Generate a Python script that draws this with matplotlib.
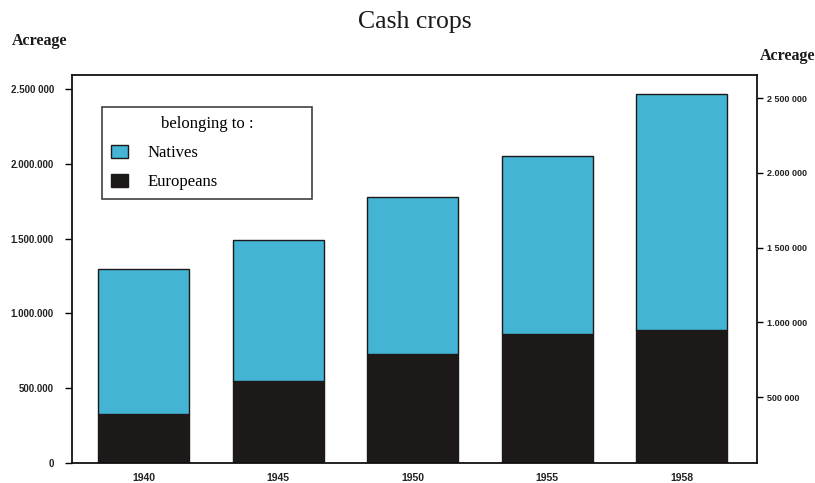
import matplotlib
matplotlib.use("Agg")
import matplotlib.pyplot as plt
from matplotlib.patches import Patch
import numpy as np

years = ["1940", "1945", "1950", "1955", "1958"]
europeans = [330000, 550000, 730000, 860000, 890000]
totals = [1300000, 1490000, 1780000, 2050000, 2470000]
natives = [t - e for t, e in zip(totals, europeans)]

left_ticks = [0, 500000, 1000000, 1500000, 2000000, 2500000]
left_labels = ["0", "500.000", "1.000.000", "1.500.000", "2.000.000", "2.500 000"]
right_ticks = [500000, 1000000, 1500000, 2000000, 2500000]
right_labels = ["500 000", "1.000 000", "1 500 000", "2.000 000", "2 500 000"]

blue = "#43b4d4"
dark = "#1e1919"
serif = ["Liberation Serif", "DejaVu Serif"]
narrow = ["Liberation Sans Narrow", "Liberation Sans", "DejaVu Sans"]

fig = plt.figure(figsize=(8.15, 4.83), dpi=100)
ax = fig.add_axes([72/815, (483-463)/483, (757-72)/815, (463-75)/483])

x = np.arange(len(years))
w = 0.676
ax.bar(x, europeans, w, color=dark, edgecolor=dark, linewidth=1, zorder=2)
ax.bar(x, natives, w, bottom=europeans, color=blue, edgecolor=dark, linewidth=1, zorder=2)

ax.set_xlim(-0.531, 4.558)
ymax = 2594000
ax.set_ylim(0, ymax)

ax.set_yticks(left_ticks)
ax.set_yticklabels(left_labels, fontsize=7, fontweight="bold", family=narrow, color="#222222")
ax.set_xticks(x)
ax.set_xticklabels(years, fontsize=7.5, fontweight="bold", family=narrow, color="#222222")
ax.tick_params(axis="y", direction="out", length=5, width=1, pad=8)
ax.tick_params(axis="x", length=0, pad=7)
for s in ax.spines.values():
    s.set_linewidth(1.3)
    s.set_color("#111111")

ax2 = ax.twinx()
off = 60000
ax2.set_ylim(off, ymax + off)
ax2.set_yticks(right_ticks)
ax2.set_yticklabels(right_labels, fontsize=6.5, fontweight="bold", family=narrow, color="#222222")
ax2.tick_params(axis="y", direction="out", length=4, width=1, pad=3)
for s in ax2.spines.values():
    s.set_visible(False)

handles = [Patch(facecolor=blue, edgecolor=dark, linewidth=1, label="Natives"),
           Patch(facecolor=dark, edgecolor=dark, linewidth=1, label="Europeans")]
leg = ax.legend(handles=handles, title="belonging to :", loc="upper left",
                bbox_to_anchor=((102-72)/685, (463-107)/388, 210/685, 0.0),
                mode="expand", frameon=True, fancybox=False,
                prop={"family": serif, "size": 12}, handlelength=1.0, handleheight=0.85,
                borderpad=0.55, labelspacing=0.75, handletextpad=1.2, borderaxespad=0)
leg.get_title().set_fontfamily(serif)
leg.get_title().set_fontsize(12)
leg.get_frame().set_edgecolor("#111111")
leg.get_frame().set_linewidth(1.2)
leg.set_zorder(5)

fig.text(415/815, 1 - 22/483, "Cash crops", ha="center", va="center", fontsize=18.5,
         family=serif, color="#1a1a1a")
fig.text(12/815, 1 - 41/483, "Acreage", ha="left", va="center", fontsize=11.5,
         family=serif, fontweight="bold", color="#1a1a1a")
fig.text(760/815, 1 - 56/483, "Acreage", ha="left", va="center", fontsize=11.5,
         family=serif, fontweight="bold", color="#1a1a1a")

fig.savefig("out.png", dpi=100)
